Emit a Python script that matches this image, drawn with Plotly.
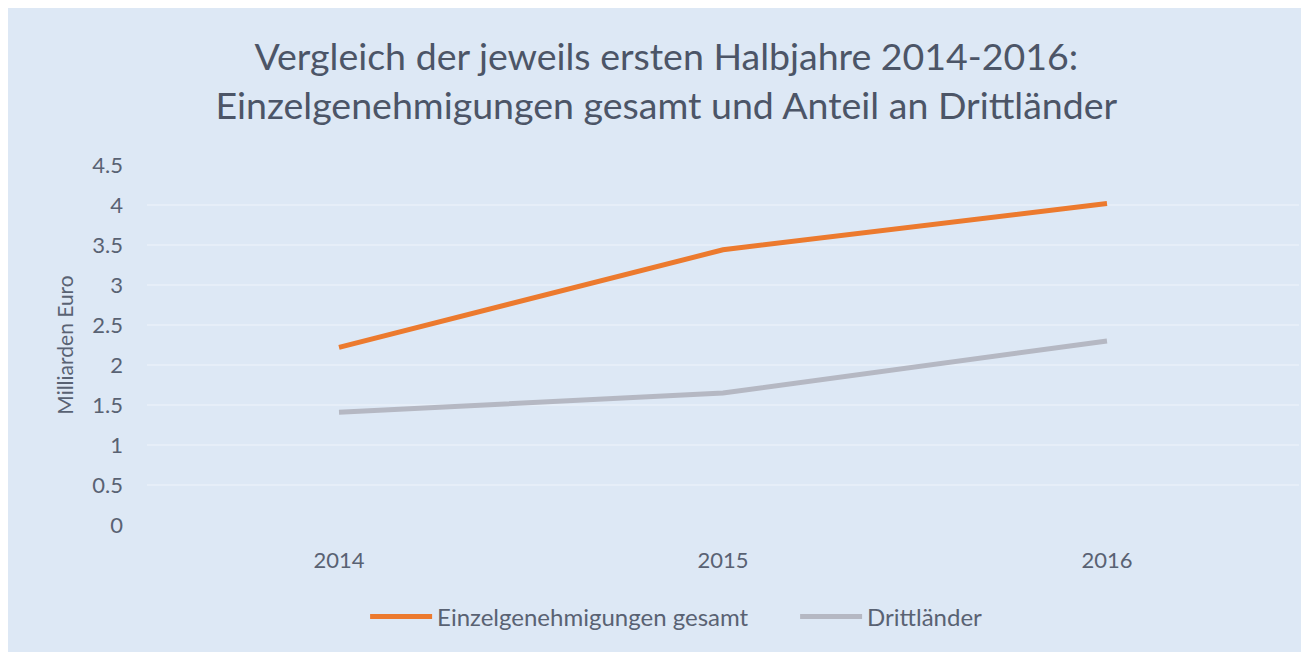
import plotly.graph_objects as go

years = ["2014", "2015", "2016"]
gesamt = [2.22, 3.44, 4.02]
drittlaender = [1.41, 1.65, 2.30]
y_ticks = [0, 0.5, 1, 1.5, 2, 2.5, 3, 3.5, 4, 4.5]
y_labels = ["0", "0.5", "1", "1.5", "2", "2.5", "3", "3.5", "4", "4.5"]

BG = "#dde8f5"
TXT = "#596273"
FONT = "Lato"

fig = go.Figure()
fig.add_trace(go.Scatter(x=years, y=gesamt, mode="lines", name="Einzelgenehmigungen gesamt",
                         line=dict(color="#ec7a2e", width=5)))
fig.add_trace(go.Scatter(x=years, y=drittlaender, mode="lines", name="Drittländer",
                         line=dict(color="#b5b8c3", width=5)))

# page body has an 8px margin, so the figure is a bit smaller than the window
W, H = 1301, 644

fig.update_layout(
    width=W, height=H,
    margin=dict(l=139, r=10, t=157, b=127),
    paper_bgcolor=BG,
    plot_bgcolor=BG,
    font=dict(family=FONT, color=TXT, size=22),
    title=dict(text="Vergleich der jeweils ersten Halbjahre 2014-2016:<br>Einzelgenehmigungen gesamt und Anteil an Drittländer",
               x=0.506, xref="container", xanchor="center",
               y=1 - 62 / H, yref="container", yanchor="top",
               font=dict(family=FONT, size=37.5, color="#4c5567")),
    # entrywidth pads every entry, so the centre is pushed right to compensate
    legend=dict(orientation="h", xref="container", x=0.605, xanchor="center",
                yref="container", y=1 - 609 / H, yanchor="middle",
                itemwidth=62, entrywidth=353,
                font=dict(size=24, color=TXT), bgcolor="rgba(0,0,0,0)"),
    showlegend=True,
)
fig.update_xaxes(type="category", range=[-0.5, 2.5], showgrid=False, showline=False,
                 ticks="", tickfont=dict(size=22, color=TXT), ticklabelstandoff=20)
fig.update_yaxes(range=[0, 4.5], tickvals=y_ticks, ticktext=y_labels,
                 showgrid=True, gridcolor="#e6eef8", gridwidth=1.5, zeroline=False,
                 showline=False, ticks="", tickfont=dict(size=22, color=TXT),
                 ticklabelstandoff=23,
                 title=dict(text="Milliarden Euro", font=dict(size=21, color=TXT), standoff=12))

fig.write_html("out.html")
